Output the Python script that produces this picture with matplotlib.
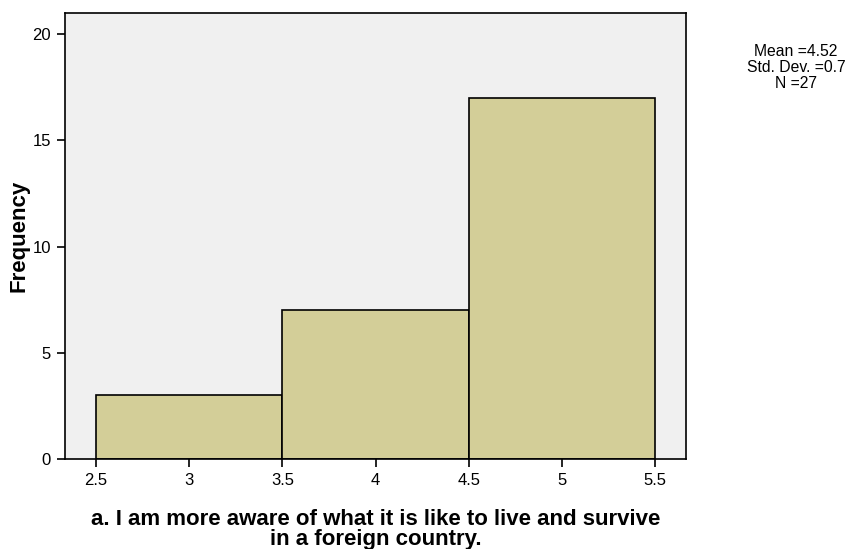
import matplotlib
matplotlib.use("Agg")
import matplotlib.pyplot as plt

bin_edges = [2.5, 3.5, 4.5, 5.5]
counts = [3, 7, 17]
x_ticks = [2.5, 3, 3.5, 4, 4.5, 5, 5.5]
x_tick_labels = ["2.5", "3", "3.5", "4", "4.5", "5", "5.5"]
y_ticks = [0, 5, 10, 15, 20]
stats_text = "Mean =4.52\nStd. Dev. =0.7\nN =27"
xlabel = "a. I am more aware of what it is like to live and survive\nin a foreign country."

plt.rcParams['font.family'] = ['Liberation Sans', 'DejaVu Sans']

fig = plt.figure(figsize=(8.49, 5.49), dpi=100)
ax = fig.add_axes([65/849, 90/549, (686-65)/849, (459-13)/549])
ax.set_facecolor('#f0f0f0')

widths = [bin_edges[i+1] - bin_edges[i] for i in range(len(counts))]
ax.bar(bin_edges[:-1], counts, width=widths, align='edge',
       color='#d3ce98', edgecolor='black', linewidth=1.2)

ax.set_xlim(2.333, 5.667)
ax.set_ylim(0, 21)
ax.set_xticks(x_ticks)
ax.set_xticklabels(x_tick_labels)
ax.set_yticks(y_ticks)
ax.tick_params(direction='out', length=6, width=1.2, labelsize=12, pad=4)
for s in ax.spines.values():
    s.set_linewidth(1.2)

ax.set_ylabel("Frequency", fontsize=16, fontweight='bold', labelpad=2)
ax.set_xlabel(xlabel, fontsize=16, fontweight='bold', labelpad=15, linespacing=0.95)

fig.text(796/849, 1 - 44/549, stats_text, ha='center', va='top', fontsize=11.3, linespacing=1.08)

fig.savefig("out.png", dpi=100)
